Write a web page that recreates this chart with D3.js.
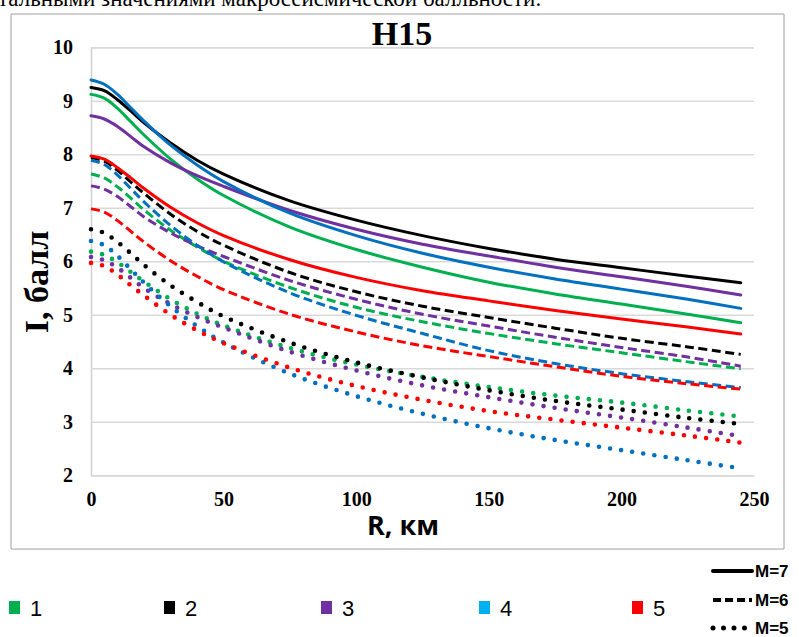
<!DOCTYPE html>
<html>
<head>
<meta charset="utf-8">
<script src="https://cdn.jsdelivr.net/npm/d3@7"></script>
<style>
  html, body { margin: 0; padding: 0; background: #fff; }
  svg { display: block; }
</style>
</head>
<body>
<svg id="chart" width="799" height="637"></svg>
<script>
// Epicentral distance, km
const distances = [0, 5, 10, 15, 20, 30, 40, 50, 75, 100, 125, 150, 175, 200, 225, 245];

// Macroseismic intensity (points), one array per model (1..5) and magnitude
const s1_m7 = [9.12, 9.05, 8.86, 8.61, 8.36, 7.91, 7.54, 7.23, 6.64, 6.22, 5.89, 5.61, 5.39, 5.20, 5.01, 4.85];
const s2_m7 = [9.25, 9.19, 9.02, 8.81, 8.59, 8.21, 7.89, 7.63, 7.13, 6.77, 6.48, 6.24, 6.04, 5.88, 5.72, 5.60];
const s3_m7 = [8.72, 8.66, 8.52, 8.33, 8.14, 7.84, 7.60, 7.40, 6.95, 6.60, 6.32, 6.10, 5.89, 5.71, 5.53, 5.37];
const s4_m7 = [9.39, 9.31, 9.12, 8.87, 8.62, 8.17, 7.80, 7.49, 6.90, 6.48, 6.15, 5.89, 5.67, 5.48, 5.29, 5.12];
const s5_m7 = [7.97, 7.91, 7.75, 7.56, 7.36, 7.01, 6.72, 6.48, 6.03, 5.70, 5.45, 5.26, 5.08, 4.92, 4.77, 4.64];

const s1_m6 = [7.63, 7.56, 7.39, 7.18, 6.96, 6.58, 6.27, 6.00, 5.51, 5.14, 4.87, 4.65, 4.46, 4.29, 4.12, 3.99];
const s2_m6 = [7.94, 7.87, 7.70, 7.48, 7.27, 6.88, 6.56, 6.30, 5.79, 5.43, 5.16, 4.95, 4.75, 4.56, 4.40, 4.26];
const s3_m6 = [7.41, 7.35, 7.21, 7.02, 6.83, 6.53, 6.29, 6.09, 5.64, 5.29, 5.01, 4.79, 4.58, 4.39, 4.21, 4.04];
const s4_m6 = [7.89, 7.81, 7.61, 7.36, 7.11, 6.67, 6.30, 5.99, 5.41, 4.99, 4.65, 4.33, 4.09, 3.90, 3.75, 3.64];
const s5_m6 = [6.98, 6.92, 6.76, 6.56, 6.36, 6.01, 5.72, 5.47, 5.01, 4.68, 4.42, 4.22, 4.03, 3.85, 3.71, 3.61];

const s1_m5 = [6.18, 6.12, 5.98, 5.80, 5.62, 5.29, 5.02, 4.80, 4.38, 4.07, 3.84, 3.65, 3.49, 3.36, 3.21, 3.10];
const s2_m5 = [6.60, 6.53, 6.36, 6.15, 5.93, 5.55, 5.24, 4.97, 4.48, 4.11, 3.83, 3.59, 3.39, 3.23, 3.07, 2.96];
const s3_m5 = [6.08, 6.02, 5.88, 5.69, 5.50, 5.20, 4.96, 4.76, 4.31, 3.96, 3.68, 3.46, 3.26, 3.08, 2.89, 2.73];
const s4_m5 = [6.38, 6.30, 6.10, 5.85, 5.60, 5.16, 4.79, 4.48, 3.90, 3.48, 3.15, 2.88, 2.66, 2.47, 2.28, 2.13];
const s5_m5 = [5.97, 5.91, 5.75, 5.55, 5.36, 5.00, 4.71, 4.47, 4.01, 3.67, 3.41, 3.20, 3.04, 2.89, 2.74, 2.61];

const modelNames = ["1", "2", "3", "4", "5"];
const magnitudeNames = ["M=7", "M=6", "M=5"];
const xTicks = [0, 50, 100, 150, 200, 250];
const yTicks = [2, 3, 4, 5, 6, 7, 8, 9, 10];

const titleText = "H15";
const xTitle = "R, км";
const yTitle = "I, балл";
const captionText = "тальными значениями макросейсмической балльности.";

// Styles
const lineColor = { "1": "#00B050", "2": "#000000", "3": "#7030A0", "4": "#0070C0", "5": "#FF0000" };
const legendColor = { "1": "#00B050", "2": "#000000", "3": "#7030A0", "4": "#00B0F0", "5": "#FF0000" };

const seriesTable = [
  { model: "1", mag: "M=7", values: s1_m7 }, { model: "2", mag: "M=7", values: s2_m7 },
  { model: "3", mag: "M=7", values: s3_m7 }, { model: "4", mag: "M=7", values: s4_m7 },
  { model: "5", mag: "M=7", values: s5_m7 },
  { model: "1", mag: "M=6", values: s1_m6 }, { model: "2", mag: "M=6", values: s2_m6 },
  { model: "3", mag: "M=6", values: s3_m6 }, { model: "4", mag: "M=6", values: s4_m6 },
  { model: "5", mag: "M=6", values: s5_m6 },
  { model: "1", mag: "M=5", values: s1_m5 }, { model: "2", mag: "M=5", values: s2_m5 },
  { model: "3", mag: "M=5", values: s3_m5 }, { model: "4", mag: "M=5", values: s4_m5 },
  { model: "5", mag: "M=5", values: s5_m5 }
];

const svg = d3.select("#chart");

// Caption line of the surrounding text, cut by the page top
svg.append("text")
  .attr("x", -2).attr("y", 6)
  .attr("font-family", "Liberation Serif, Times New Roman, serif")
  .attr("font-size", 23)
  .attr("fill", "#000")
  .text(captionText);

// Chart frame
svg.append("path")
  .attr("d", "M 11 14 H 784 V 549 H 11 Z")
  .attr("fill", "#fff")
  .attr("stroke", "#a0a0a0")
  .attr("stroke-width", 1);

const plot = { left: 91, right: 754, top: 47.3, bottom: 475.3 };

const x = d3.scaleLinear().domain([0, 250]).range([plot.left, plot.right]);
const y = d3.scaleLinear().domain([2, 10]).range([plot.bottom, plot.top]);

// Horizontal gridlines and value labels
const yAxis = d3.axisLeft(y).tickValues(yTicks).tickSize(-(plot.right - plot.left)).tickFormat(d3.format("d")).tickPadding(18);
const gy = svg.append("g").attr("transform", `translate(${plot.left},0)`).call(yAxis);
gy.select(".domain").attr("stroke", "#d0d0d0").attr("stroke-width", 1.5);
gy.selectAll(".tick line").attr("stroke", "#d9d9d9").attr("stroke-width", 1.5);
gy.selectAll(".tick text")
  .attr("font-family", "Liberation Serif, Times New Roman, serif")
  .attr("font-weight", "bold").attr("font-size", 20).attr("fill", "#000");

const xAxis = d3.axisBottom(x).tickValues(xTicks).tickSize(0).tickFormat(d3.format("d")).tickPadding(17);
const gx = svg.append("g").attr("transform", `translate(0,${plot.bottom})`).call(xAxis);
gx.select(".domain").remove();
gx.selectAll(".tick text")
  .attr("font-family", "Liberation Serif, Times New Roman, serif")
  .attr("font-weight", "bold").attr("font-size", 20).attr("fill", "#000");

// Title
svg.append("text")
  .attr("x", 402).attr("y", 45)
  .attr("text-anchor", "middle")
  .attr("font-family", "Liberation Serif, Times New Roman, serif")
  .attr("font-weight", "bold").attr("font-size", 34)
  .text(titleText);

// Axis titles
svg.append("text")
  .attr("x", 403).attr("y", 535)
  .attr("text-anchor", "middle")
  .attr("font-family", "Open Sans, Liberation Sans, sans-serif")
  .attr("font-weight", "bold").attr("font-size", 27)
  .text(xTitle);

svg.append("text")
  .attr("transform", "translate(48,282) rotate(-90)")
  .attr("text-anchor", "middle")
  .attr("font-family", "Liberation Serif, Times New Roman, serif")
  .attr("font-weight", "bold").attr("font-size", 34)
  .text(yTitle);

// Curves
const line = d3.line()
  .x((d, i) => x(distances[i]))
  .y(d => y(d))
  .curve(d3.curveCatmullRom.alpha(0.5));

const dashFor = { "M=7": null, "M=6": "9 4.5", "M=5": "0 11.2" };
const widthFor = { "M=7": 3, "M=6": 3, "M=5": 4.6 };
const capFor = { "M=7": "round", "M=6": "butt", "M=5": "round" };

const drawOrder = ["M=5", "M=6", "M=7"];
drawOrder.forEach(mag => {
  svg.append("g").selectAll("path")
    .data(seriesTable.filter(s => s.mag === mag))
    .join("path")
    .attr("d", s => line(s.values))
    .attr("fill", "none")
    .attr("stroke", s => lineColor[s.model])
    .attr("stroke-width", widthFor[mag])
    .attr("stroke-linecap", capFor[mag])
    .attr("stroke-dasharray", dashFor[mag]);
});

// Model legend (coloured squares)
const legendX = [9, 164, 321, 479, 632];
const lg = svg.append("g");
modelNames.forEach((name, i) => {
  lg.append("rect")
    .attr("x", legendX[i]).attr("y", 601)
    .attr("width", 11).attr("height", 13)
    .attr("fill", legendColor[name]);
  lg.append("text")
    .attr("x", legendX[i] + 21).attr("y", 616)
    .attr("font-family", "Liberation Sans Narrow, Liberation Sans, sans-serif")
    .attr("font-size", 22)
    .text(name);
});

// Magnitude legend (line styles), on its own white panel
svg.append("rect").attr("x", 698).attr("y", 550).attr("width", 101).attr("height", 87).attr("fill", "#fff");
const legendY = [571, 600, 628];
magnitudeNames.forEach((name, i) => {
  const yy = legendY[i];
  svg.append("line")
    .attr("x1", 713).attr("x2", 752)
    .attr("y1", yy).attr("y2", yy)
    .attr("stroke", "#000")
    .attr("stroke-width", i === 2 ? 5 : 4)
    .attr("stroke-linecap", i === 1 ? "butt" : "round")
    .attr("stroke-dasharray", i === 0 ? null : (i === 1 ? "8 4" : "0 10.5"));
  svg.append("text")
    .attr("x", 755).attr("y", yy + 6)
    .attr("font-family", "Liberation Sans Narrow, Liberation Sans, sans-serif")
    .attr("font-weight", "bold").attr("font-size", 17)
    .text(name);
});
</script>
</body>
</html>
